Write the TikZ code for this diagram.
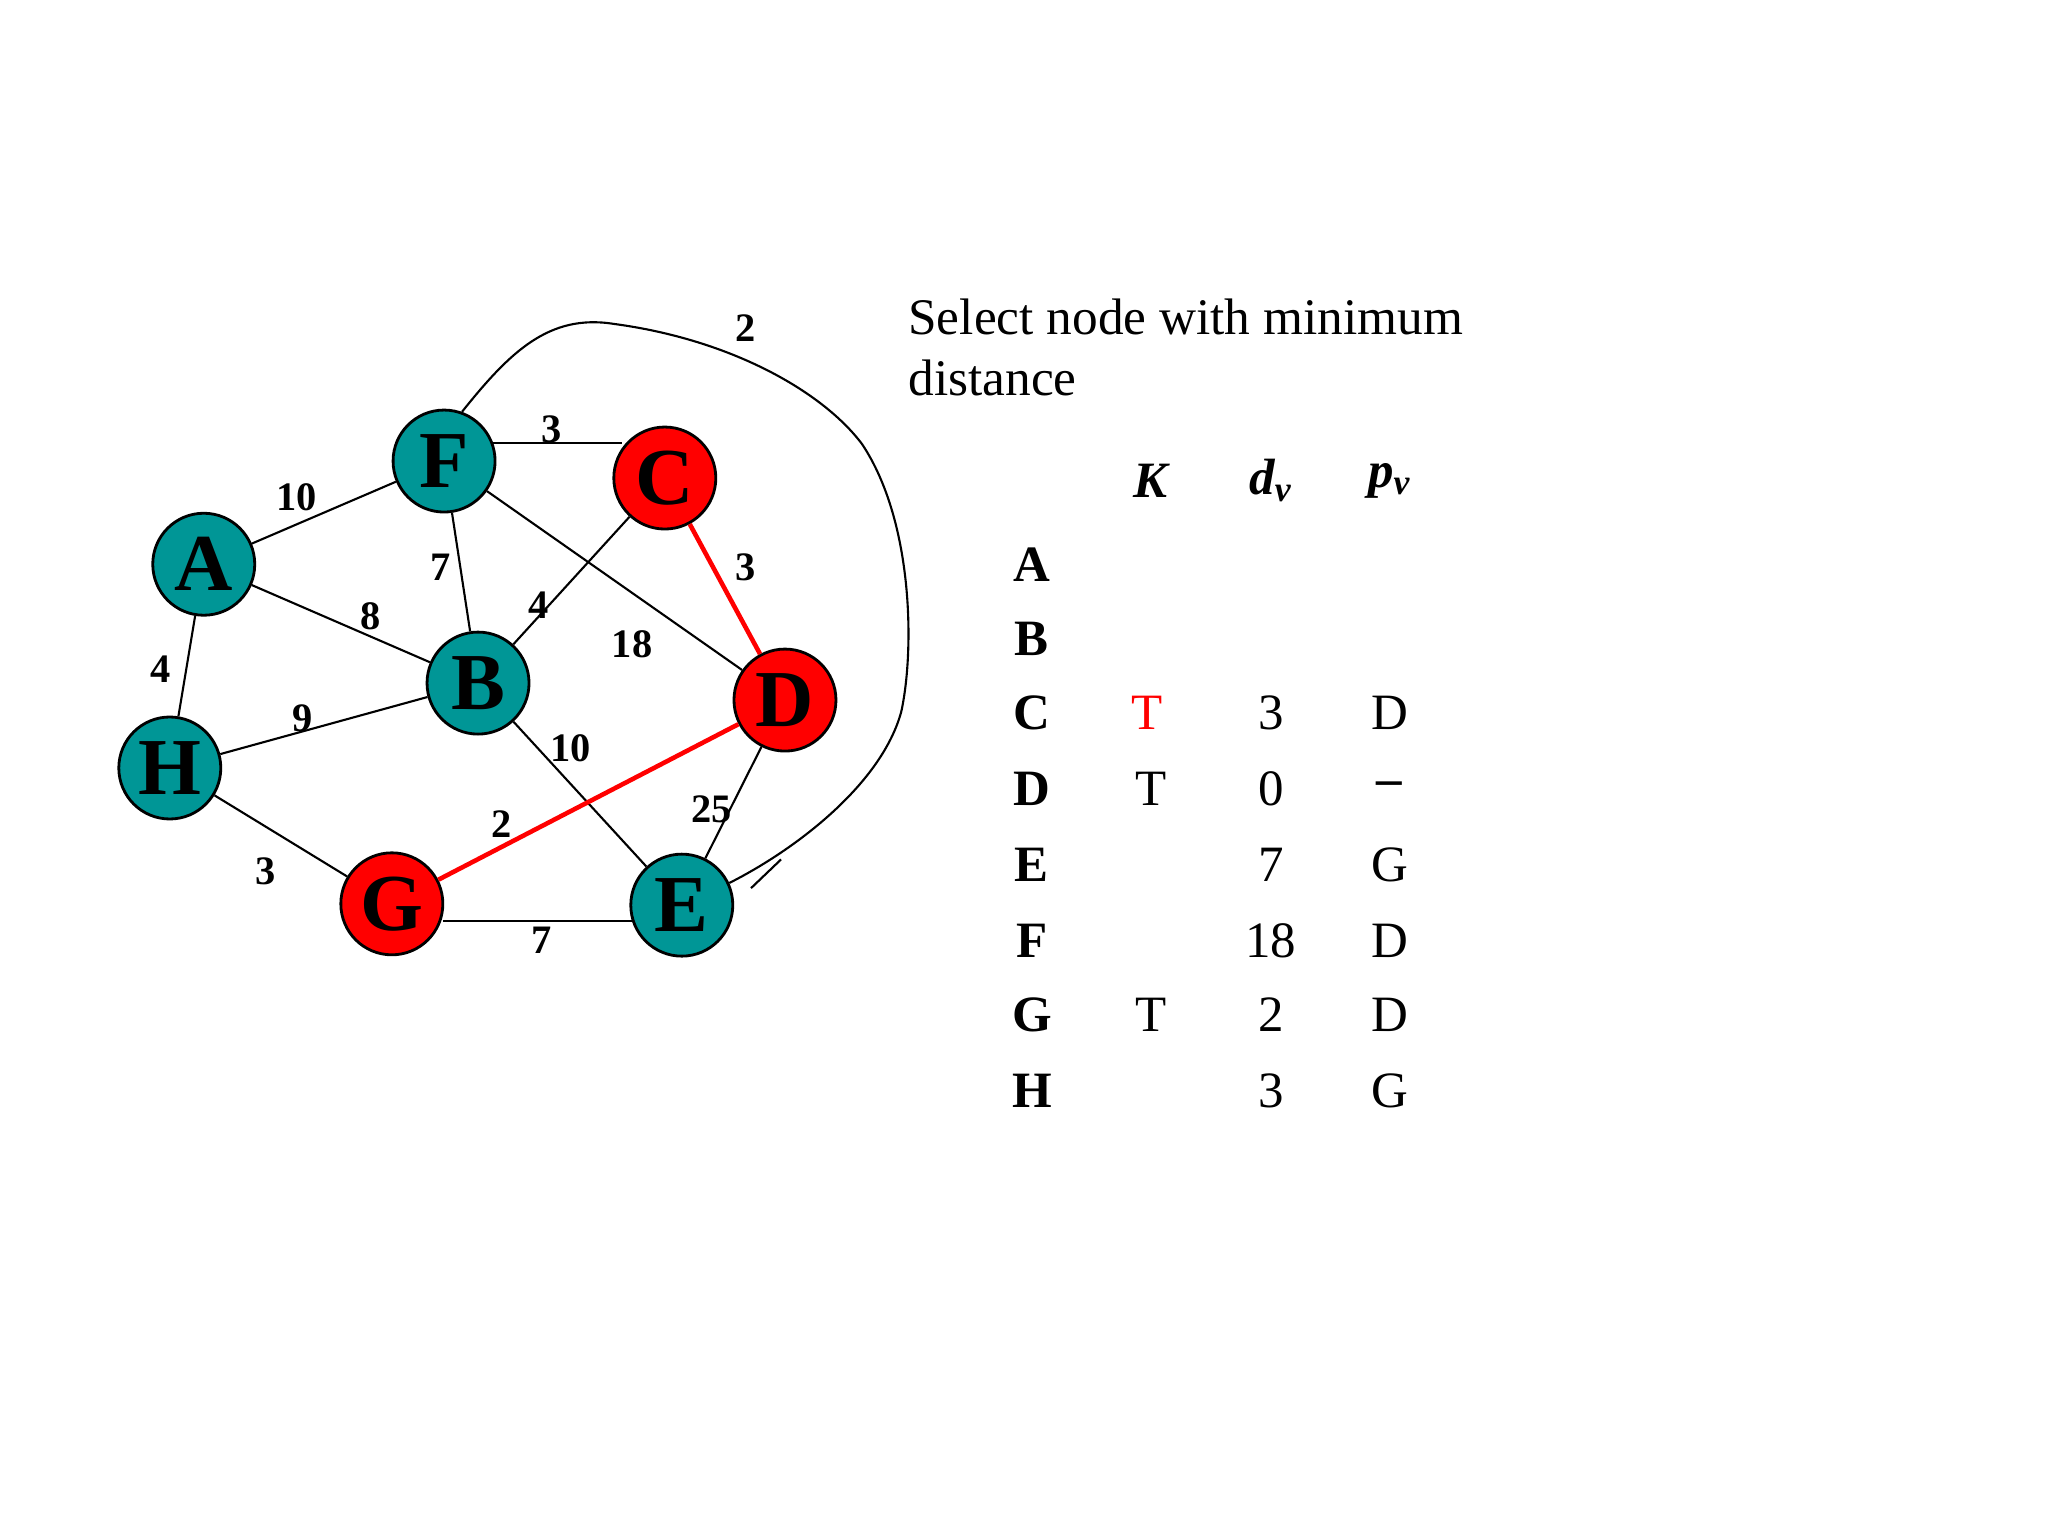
\documentclass[tikz,border=0pt]{standalone}
\usepackage{fontspec}
\setmainfont{Liberation Serif}
\definecolor{teal1}{RGB}{0,150,150}
\begin{document}
\begin{tikzpicture}[x=0.01306cm,y=-0.01306cm,
 nd/.style={circle,draw=black,thick,minimum size=1.02cm,inner sep=0pt,font=\fontsize{23}{23}\selectfont\bfseries},
 tl/.style={nd,fill=teal1}, rd/.style={nd,fill=red},
 lb/.style={font=\fontsize{11.5}{12}\selectfont\bfseries},
 tb/.style={font=\fontsize{14.5}{16}\selectfont},
 tbb/.style={font=\fontsize{14.5}{16}\selectfont\bfseries},
 e/.style={draw=black,line width=0.6pt}, re/.style={draw=red,line width=1.3pt}]
\useasboundingbox (0,0) rectangle (1568,1176);
\node[tl] (F) at (340,353) {F};
\node[rd] (C) at (509,366) {C};
\node[tl] (A) at (156,432) {A};
\node[tl] (B) at (366,523) {B};
\node[rd] (D) at (601,536) {D};
\node[tl] (H) at (130,588) {H};
\node[rd] (G) at (300,692) {G};
\node[tl] (E) at (522,693) {E};
\coordinate (fc1) at (377,339);
\coordinate (fc2) at (476,339);
\coordinate (ge1) at (339,705);
\coordinate (ge2) at (484,705);
\draw[e] (fc1) -- (fc2);
\draw[e] (ge1) -- (ge2);
\draw[e] (A) -- (F);
\draw[e] (A) -- (B);
\draw[e] (F) -- (B);
\draw[e] (F) -- (D);
\draw[e] (C) -- (B);
\draw[e] (A) -- (H);
\draw[e] (H) -- (B);
\draw[e] (H) -- (G);
\draw[e] (B) -- (E);
\draw[e] (D) -- (E);
\draw[re] (C) -- (D);
\draw[re] (G) -- (D);
\coordinate (t1) at (575,680);
\coordinate (t2) at (598,658);
\draw[e] (F.70) .. controls (390,270) and (420,240) .. (470,248)
 .. controls (560,260) and (630,300) .. (660,340)
 .. controls (700,400) and (700,500) .. (690,545)
 .. controls (675,600) and (610,650) .. (E.25);
\draw[e] (t1) -- (t2);
\node[lb] (l1) at (571,251) {2};
\node[lb] (l2) at (422,329) {3};
\node[lb] (l3) at (227,381) {10};
\node[lb] (l4) at (337,434) {7};
\node[lb] (l5) at (284,472) {8};
\node[lb] (l6) at (412,463) {4};
\node[lb] (l7) at (484,493) {18};
\node[lb] (l8) at (571,434) {3};
\node[lb] (l9) at (123,512) {4};
\node[lb] (l10) at (232,550) {9};
\node[lb] (l11) at (437,573) {10};
\node[lb] (l12) at (545,620) {25};
\node[lb] (l13) at (384,631) {2};
\node[lb] (l14) at (203,667) {3};
\node[lb] (l15) at (415,720) {7};
\node[font=\fontsize{14.6}{17.4}\selectfont,align=left,anchor=north west,inner sep=0pt] (title) at (695,228) {Select node with minimum\\distance};
\node[font=\fontsize{14.5}{16}\selectfont\bfseries\itshape] (hK) at (881,368) {K};
\node[font=\fontsize{14.5}{16}\selectfont\bfseries\itshape] (hd) at (973,368) {d\textsubscript{\itshape v}};
\node[font=\fontsize{14.5}{16}\selectfont\bfseries\itshape] (hp) at (1064,368) {p\textsubscript{\itshape v}};
\foreach \n/\y/\k/\d/\p in {A/432///,B/489///,C/546//3/D,D/604/T/0/\textbf{--},E/662//7/G,F/720//18/D,G/777/T/2/D,H/835//3/G}{
 \node[tbb] (r\n) at (790,\y) {\n};
 \node[tb] (k\n) at (881,\y) {\k};
 \node[tb] (d\n) at (973,\y) {\d};
 \node[tb] (p\n) at (1064,\y) {\p};
}
\node[tb,text=red] (kC) at (878,546) {T};
\end{tikzpicture}
\end{document}
